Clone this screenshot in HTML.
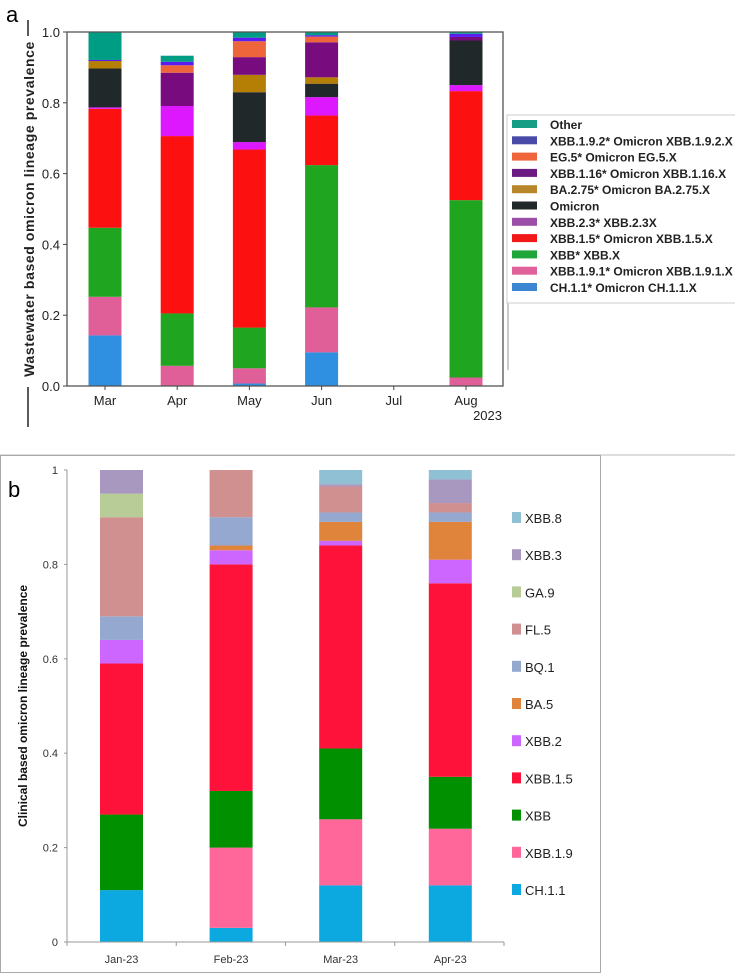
<!DOCTYPE html>
<html><head><meta charset="utf-8">
<style>
body{margin:0;background:#fff;width:735px;height:976px;overflow:hidden;font-family:"Liberation Sans","DejaVu Sans",sans-serif}
svg{position:absolute;left:0;top:0}
</style></head>
<body>
<svg id="chart" width="735" height="976"></svg>
<script>
// ---- Panel a data ----
const aMonths = ["Mar","Apr","May","Jun","Jul","Aug"];
const aSeries = ["CH.1.1* Omicron CH.1.1.X","XBB.1.9.1* Omicron XBB.1.9.1.X","XBB* XBB.X","XBB.1.5* Omicron XBB.1.5.X","XBB.2.3* XBB.2.3X","Omicron","BA.2.75* Omicron BA.2.75.X","XBB.1.16* Omicron XBB.1.16.X","EG.5* Omicron EG.5.X","XBB.1.9.2* Omicron XBB.1.9.2.X","Other"];
const aColors = ["#2f8fe0","#e05f98","#1fa51f","#fc1010","#dd18ff","#212829","#b57f06","#780c7e","#ef653b","#5a1cf0","#009d85"];
const aLegendColors = ["#3a86d0","#e0609a","#1fa53a","#f01818","#9b4fa8","#212829","#b8862a","#6a1a80","#ef653b","#4a4aa8","#159e85"];
// per series values per month (Mar,Apr,May,Jun,Jul,Aug)
const aCH11   = [0.143,0,0.007,0.095,0,0];
const aXBB191 = [0.109,0.057,0.043,0.127,0,0.024];
const aXBB    = [0.195,0.148,0.115,0.402,0,0.501];
const aXBB15  = [0.336,0.501,0.503,0.140,0,0.308];
const aXBB23  = [0.004,0.085,0.021,0.052,0,0.017];
const aOmicron= [0.110,0,0.141,0.038,0,0.126];
const aBA275  = [0.021,0,0.049,0.018,0,0];
const aXBB116 = [0,0.094,0.050,0.099,0,0.010];
const aEG5    = [0,0.021,0.045,0.016,0,0];
const aXBB192 = [0.003,0.010,0.010,0.004,0,0.009];
const aOther  = [0.079,0.017,0.016,0.009,0,0.005];
const aValues = [aCH11,aXBB191,aXBB,aXBB15,aXBB23,aOmicron,aBA275,aXBB116,aEG5,aXBB192,aOther];
const aTicks = ["0.0","0.2","0.4","0.6","0.8","1.0"];

// ---- Panel b data ----
const bMonths = ["Jan-23","Feb-23","Mar-23","Apr-23"];
const bSeries = ["CH.1.1","XBB.1.9","XBB","XBB.1.5","XBB.2","BA.5","BQ.1","FL.5","GA.9","XBB.3","XBB.8"];
const bColors = ["#0ca8e0","#ff6699","#009000","#ff1239","#cc66ff","#e0843c","#94a8d0","#d09090","#b8cc98","#a898c0","#90c0d4"];
const bCH11  = [0.11,0.03,0.12,0.12];
const bXBB19 = [0,0.17,0.14,0.12];
const bXBB   = [0.16,0.12,0.15,0.11];
const bXBB15 = [0.32,0.48,0.43,0.41];
const bXBB2  = [0.05,0.03,0.01,0.05];
const bBA5   = [0,0.01,0.04,0.08];
const bBQ1   = [0.05,0.06,0.02,0.02];
const bFL5   = [0.21,0.10,0.055,0.02];
const bGA9   = [0.05,0,0,0];
const bXBB3  = [0.05,0,0.005,0.05];
const bXBB8  = [0,0,0.03,0.02];
const bValues = [bCH11,bXBB19,bXBB,bXBB15,bXBB2,bBA5,bBQ1,bFL5,bGA9,bXBB3,bXBB8];
const bTicks = ["0","0.2","0.4","0.6","0.8","1"];

const NS="http://www.w3.org/2000/svg";
const svg=document.getElementById('chart');
function mk(tag,attrs,parent,text){const e=document.createElementNS(NS,tag);for(const k in attrs)e.setAttribute(k,attrs[k]);if(text!==undefined)e.textContent=text;(parent||svg).appendChild(e);return e;}

// ===== Panel a =====
const ay=v=>386-v*354;
const ax=i=>105+i*72.2;
const ga=mk('g',{});


let t=mk('text',{x:6,y:22,'font-size':22,fill:'#000'},ga,'a');


for(let i=0;i<aMonths.length;i++){
  let base=0;
  for(let s=0;s<aValues.length;s++){
    const v=aValues[s][i]; if(v<=0)continue;
    const r=mk('rect',{x:ax(i)-16.5,y:ay(base+v),width:33,height:ay(base)-ay(base+v),fill:aColors[s]},ga);
    
    
    base+=v;
  }
}
mk('rect',{x:67,y:32,width:436,height:354,fill:'none',stroke:'#555','stroke-width':1.3},ga);
for(let k=0;k<aTicks.length;k++){
  const y=ay(k*0.2);
  mk('line',{x1:63,x2:67,y1:y,y2:y,stroke:'#444'},ga);
  const l=mk('text',{x:60,y:y+5,'text-anchor':'end','font-size':13,fill:'#222'},ga,aTicks[k]);
  
  
}
for(let i=0;i<aMonths.length;i++){
  mk('line',{x1:ax(i),x2:ax(i),y1:386,y2:390,stroke:'#444'},ga);
  const l=mk('text',{x:ax(i),y:405,'text-anchor':'middle','font-size':13,fill:'#222'},ga,aMonths[i]);
  
  
}
t=mk('text',{x:502,y:420,'text-anchor':'end','font-size':13,fill:'#222'},ga,'2023');


t=mk('text',{x:0,y:0,transform:'translate(34,209) rotate(-90)','text-anchor':'middle','font-size':14,'font-weight':'bold','letter-spacing':'0.6',fill:'#222'},ga,'Wastewater  based  omicron  lineage  prevalence');


mk('line',{x1:28,x2:28,y1:20,y2:36,stroke:'#222','stroke-width':1.5},ga);
mk('line',{x1:28,x2:28,y1:387,y2:427,stroke:'#222','stroke-width':1.5},ga);
// legend a
mk('line',{x1:508,x2:508,y1:115,y2:370,stroke:'#999','stroke-width':1},ga);
mk('rect',{x:507,y:115,width:240,height:188,fill:'#fff',stroke:'#ccc'},ga);
for(let s=0;s<aSeries.length;s++){
  const idx=aSeries.length-1-s;
  const y=125+s*16.3;
  const g=mk('g',{},ga);
  
  
  mk('rect',{x:512,y:y-5,width:25,height:8,fill:aLegendColors[idx]},g);
  mk('text',{x:550,y:y+4,'font-size':12,'font-weight':'bold',fill:'#222'},g,aSeries[idx]);
}
mk('line',{x1:0,x2:735,y1:455,y2:455,stroke:'#bbb'},svg);

// ===== Panel b =====
const by=v=>942-v*472;
const bx=i=>121.5+i*109.6;
const gb=mk('g',{});


mk('rect',{x:0.5,y:455.5,width:600,height:517,fill:'none',stroke:'#aaa'},gb);
t=mk('text',{x:8,y:497,'font-size':22,fill:'#000'},gb,'b');


for(let i=0;i<bMonths.length;i++){
  let base=0;
  for(let s=0;s<bValues.length;s++){
    const v=bValues[s][i]; if(v<=0)continue;
    const r=mk('rect',{x:bx(i)-21.5,y:by(base+v),width:43,height:by(base)-by(base+v),fill:bColors[s]},gb);
    
    
    base+=v;
  }
}
mk('line',{x1:67,x2:67,y1:470,y2:942,stroke:'#999'},gb);
mk('line',{x1:67,x2:504,y1:942,y2:942,stroke:'#999'},gb);
for(let k=0;k<bTicks.length;k++){
  const y=by(k*0.2);
  mk('line',{x1:64,x2:67,y1:y,y2:y,stroke:'#999'},gb);
  const l=mk('text',{x:58,y:y+4,'text-anchor':'end','font-size':11,fill:'#333'},gb,bTicks[k]);
  
  
}
for(let i=0;i<=bMonths.length;i++){
  const x=67+i*109.25;
  mk('line',{x1:x,x2:x,y1:942,y2:946,stroke:'#999'},gb);
}
for(let i=0;i<bMonths.length;i++){
  const l=mk('text',{x:bx(i),y:963,'text-anchor':'middle','font-size':11,fill:'#333'},gb,bMonths[i]);
  
  
}
t=mk('text',{x:0,y:0,transform:'translate(27,706) rotate(-90)','text-anchor':'middle','font-size':12,'font-weight':'bold',fill:'#111'},gb,'Clinical based omicron lineage prevalence');


for(let s=0;s<bSeries.length;s++){
  const idx=bSeries.length-1-s;
  const y=518+s*37.2;
  const g=mk('g',{},gb);
  
  
  mk('rect',{x:512,y:y-6,width:9,height:11,fill:bColors[idx]},g);
  mk('text',{x:525,y:y+5,'font-size':13,fill:'#222'},g,bSeries[idx]);
}
</script>
</body></html>
